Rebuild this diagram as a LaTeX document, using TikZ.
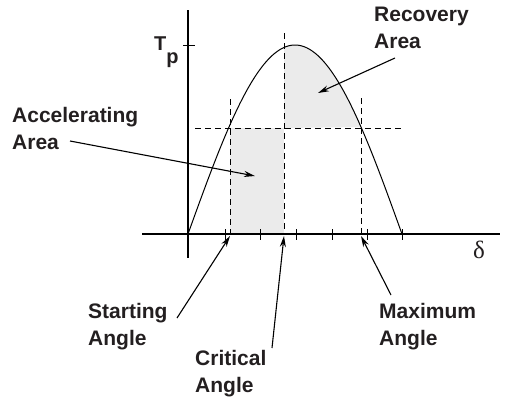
\documentclass[tikz,border=0pt]{standalone}
\usepackage{fontspec}
\setmainfont{Liberation Sans}
\newfontfamily\greekserif{Liberation Serif}
\usetikzlibrary{arrows.meta}
\definecolor{ink}{RGB}{35,31,32}
\definecolor{areafill}{RGB}{235,235,235}
\tikzset{
  lbl/.style={font=\bfseries\fontsize{21}{27}\selectfont, text=ink, align=left, anchor=base west, inner sep=0pt},
  pointer/.style={line width=1.1pt, -{Stealth[length=11pt,width=6pt]}},
  guide/.style={line width=0.8pt, dash pattern=on 6pt off 4pt},
  axisline/.style={line width=1.2pt},
  tickmark/.style={line width=1pt},
}
\begin{document}
\begin{tikzpicture}[x=1pt,y=-1pt]
\useasboundingbox (0,0) rectangle (513,399);
% shaded areas
\fill[areafill] (230,128) rectangle (284,234);
\fill[areafill] (284,128) -- plot[domain=284:361,samples=40] (\x,{234-189*sin(0.841121*(\x-188))}) -- cycle;
% axes
\coordinate (O) at (188,234);
\draw[axisline] (142,234) -- (500,234);
\draw[axisline] (188,10) -- (188,258);
% ticks
\foreach \t in {225,260,296,332,367,402} \draw[tickmark] (\t,229) -- (\t,240);
\draw[tickmark] (183,45) -- (195,45);
% guide lines
\draw[guide] (195,128) -- (404,128);
\draw[guide] (230,99) -- (230,234);
\draw[guide] (284,33) -- (284,234);
\draw[guide] (361,98) -- (361,234);
% curve
\draw[line width=1pt] plot[domain=188:402,samples=100] (\x,{234-189*sin(0.841121*(\x-188))});
% labels (base anchor = baseline of last line)
\node[font=\bfseries\fontsize{20}{24}\selectfont, text=ink, anchor=base west, inner sep=0pt] (tp) at (154,50) {T\raisebox{-13pt}{p}};
\node[font=\greekserif\fontsize{25}{30}\selectfont, text=ink, anchor=base west, inner sep=0pt] (delta) at (473,258) {δ};
\node[lbl] (rec) at (374,48) {Recovery\\Area};
\node[lbl] (acc) at (12,149) {Accelerating\\Area};
\node[lbl] (sta) at (88,345) {Starting\\Angle};
\node[lbl] (cri) at (195,392) {Critical\\Angle};
\node[lbl] (max) at (379,345) {Maximum\\Angle};
% arrow ends
\coordinate (recT) at (395,58);  \coordinate (recH) at (318,93);
\coordinate (accT) at (70,141);  \coordinate (accH) at (255,176);
\coordinate (staT) at (177,318); \coordinate (staH) at (230,236);
\coordinate (criT) at (272,348); \coordinate (criH) at (284,236);
\coordinate (maxT) at (391,295); \coordinate (maxH) at (361,236);
\draw[pointer] (recT) -- (recH);
\draw[pointer] (accT) -- (accH);
\draw[pointer] (staT) -- (staH);
\draw[pointer] (criT) -- (criH);
\draw[pointer] (maxT) -- (maxH);
\end{tikzpicture}
\end{document}
